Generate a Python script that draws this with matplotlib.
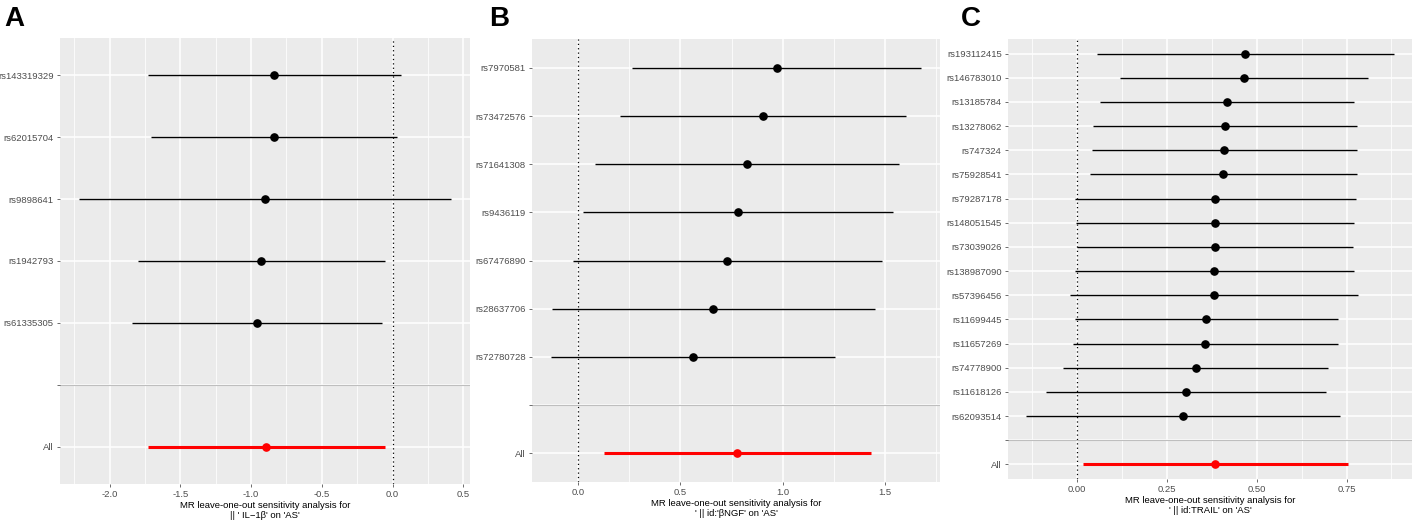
import numpy as np
import matplotlib
matplotlib.use("Agg")
import matplotlib.pyplot as plt

plt.rcParams['font.family'] = ['Liberation Sans', 'DejaVu Sans']

# Panel A: IL-1beta
snps_a = ["rs143319329", "rs62015704", "rs9898641", "rs1942793", "rs61335305"]
b_a = [-0.837, -0.84, -0.90, -0.927, -0.957]
lo_a = [-1.73, -1.71, -2.22, -1.80, -1.84]
hi_a = [0.059, 0.035, 0.416, -0.054, -0.073]
all_a = (-0.894, -1.73, -0.055)
ticks_a = [-2.0, -1.5, -1.0, -0.5, 0.0, 0.5]

# Panel B: beta-NGF
snps_b = ["rs7970581", "rs73472576", "rs71641308", "rs9436119", "rs67476890",
          "rs28637706", "rs72780728"]
b_b = [0.973, 0.902, 0.826, 0.782, 0.729, 0.661, 0.561]
lo_b = [0.266, 0.203, 0.082, 0.023, -0.026, -0.129, -0.134]
hi_b = [1.677, 1.602, 1.568, 1.539, 1.485, 1.448, 1.255]
all_b = (0.777, 0.126, 1.431)
ticks_b = [0.0, 0.5, 1.0, 1.5]

# Panel C: TRAIL
snps_c = ["rs193112415", "rs146783010", "rs13185784", "rs13278062", "rs747324",
          "rs75928541", "rs79287178", "rs148051545", "rs73039026", "rs138987090",
          "rs57396456", "rs11699445", "rs11657269", "rs74778900", "rs11618126",
          "rs62093514"]
b_c = [0.468, 0.464, 0.418, 0.412, 0.410, 0.407, 0.385, 0.384, 0.383, 0.382,
       0.381, 0.359, 0.357, 0.330, 0.304, 0.295]
lo_c = [0.056, 0.120, 0.065, 0.045, 0.042, 0.036, -0.006, -0.003, 0.001, -0.005,
        -0.019, -0.007, -0.012, -0.040, -0.087, -0.141]
hi_c = [0.881, 0.811, 0.772, 0.779, 0.779, 0.779, 0.775, 0.772, 0.768, 0.771,
        0.782, 0.726, 0.726, 0.699, 0.693, 0.733]
all_c = (0.385, 0.016, 0.753)
ticks_c = [0.00, 0.25, 0.50, 0.75]

W, H = 1417, 524
fig = plt.figure(figsize=(W / 100, H / 100), dpi=100)


def box(l, r, t, b):
    return [l / W, 1 - b / H, (r - l) / W, (b - t) / H]


def forest(ax, snps, b, lo, hi, allv, ticks, fmt, xlab, letter, letter_x):
    n = len(snps)
    labels = snps + ["", "All"]
    ypos = np.arange(1, n + 3)
    ax.set_facecolor("#EBEBEB")
    for s in ax.spines.values():
        s.set_visible(False)

    # white grid
    for y in ypos:
        ax.axhline(y, color="white", lw=1.1, zorder=0)
    step = ticks[1] - ticks[0]
    xmin = min(min(lo), allv[1], 0)
    xmax = max(max(hi), allv[2], 0)
    pad = (xmax - xmin) * 0.05
    ax.set_xlim(xmin - pad, xmax + pad)
    minors = np.arange(ticks[0] - step * 1.5, ticks[-1] + step, step)
    for m in minors:
        ax.axvline(m, color="white", lw=0.55, zorder=0)
    for t in ticks:
        ax.axvline(t, color="white", lw=1.1, zorder=0)

    ax.axvline(0, color="black", lw=0.9, ls=(0, (1, 2.5)), zorder=1)
    ax.axhline(n + 1, color="#BEBEBE", lw=0.8, zorder=1)

    ax.hlines(ypos[:n], lo, hi, color="black", lw=1.0, zorder=2)
    ax.plot(b, ypos[:n], "o", color="black", ms=5.2, zorder=3)
    ax.hlines(n + 2, allv[1], allv[2], color="#FF0000", lw=2.2, zorder=2)
    ax.plot(allv[0], n + 2, "o", color="#FF0000", ms=5.2, zorder=3)

    ax.set_ylim(n + 2.6, 0.4)
    ax.set_yticks(ypos)
    ax.set_yticklabels(labels)
    ax.set_xticks(ticks)
    ax.set_xticklabels([fmt.format(t) for t in ticks])
    ax.tick_params(axis="both", colors="#333333", labelcolor="#4D4D4D",
                   labelsize=6.8, length=2.5, width=0.5, pad=2)
    ax.set_xlabel(xlab, fontsize=6.8, color="black", labelpad=1.5, linespacing=1.05)
    fig.text(letter_x / W, 1 - 6 / H, letter, fontsize=20,
             fontweight="bold", va="top", ha="left")


ax_a = fig.add_axes(box(60, 470, 38, 484))
forest(ax_a, snps_a, b_a, lo_a, hi_a, all_a, ticks_a, "{:.1f}",
       "MR leave-one-out sensitivity analysis for\n|| ' IL\u22121\u03b2' on 'AS'", "A", 4)
ax_b = fig.add_axes(box(532, 940, 39, 482))
forest(ax_b, snps_b, b_b, lo_b, hi_b, all_b, ticks_b, "{:.1f}",
       "MR leave-one-out sensitivity analysis for\n' || id:'\u03b2NGF' on 'AS'", "B", 489)
ax_c = fig.add_axes(box(1008, 1412, 39, 479))
forest(ax_c, snps_c, b_c, lo_c, hi_c, all_c, ticks_c, "{:.2f}",
       "MR leave-one-out sensitivity analysis for\n' || id:TRAIL' on 'AS'", "C", 961)

fig.savefig("out.png", dpi=100)
